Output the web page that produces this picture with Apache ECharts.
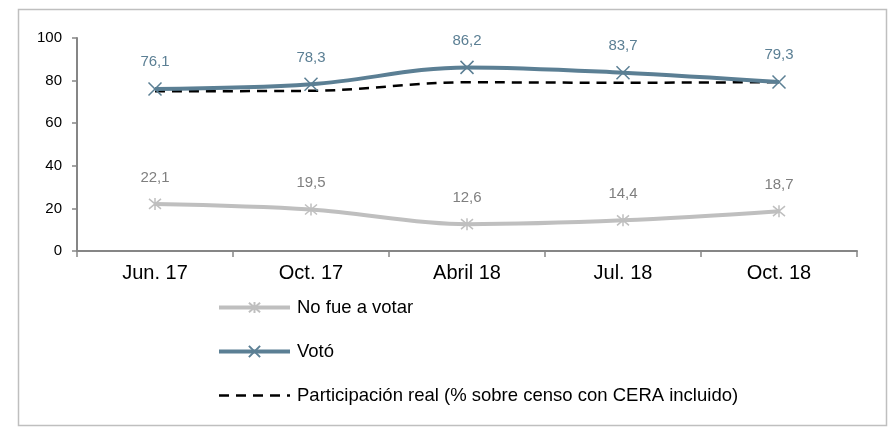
<!DOCTYPE html>
<html>
<head>
<meta charset="utf-8">
<script src="https://cdn.jsdelivr.net/npm/echarts@6/dist/echarts.min.js"></script>
<style>
html,body{margin:0;padding:0;background:#fff;}
#c{width:888px;height:427px;}
</style>
</head>
<body>
<div id="c"></div>
<script>
const categories = ['Jun. 17', 'Oct. 17', 'Abril 18', 'Jul. 18', 'Oct. 18'];
const noFue = [22.1, 19.5, 12.6, 14.4, 18.7];
const voto = [76.1, 78.3, 86.2, 83.7, 79.3];
const participacion = [75.0, 75.2, 79.2, 79.0, 79.3];
const yTicks = [0, 20, 40, 60, 80, 100];

const FONT = 'Liberation Sans, Arial, sans-serif';
const fmt = p => String(p.value).replace('.', ',');
const chart = echarts.init(document.getElementById('c'), null, {renderer: 'canvas'});
chart.setOption({
  animation: false,
  backgroundColor: '#fff',
  textStyle: {fontFamily: FONT},
  graphic: [{
    type: 'rect', silent: true,
    shape: {x: 18.5, y: 9.5, width: 868, height: 416},
    style: {fill: 'none', stroke: '#bfbfbf', lineWidth: 1.5}
  }],
  grid: {left: 77, right: 31, top: 38, bottom: 176},
  legend: {
    orient: 'vertical',
    left: 212, top: 293,
    itemWidth: 71, itemHeight: 14, itemGap: 25,
    lineStyle: {width: 'inherit'},
    textStyle: {fontSize: 18.5, color: '#000', fontFamily: FONT, padding: [0,0,0,2]},
    data: ['No fue a votar', 'Votó', 'Participación real (% sobre censo con CERA incluido)']
  },
  xAxis: {
    type: 'category', data: categories, boundaryGap: true,
    axisLine: {lineStyle: {color: '#868686', width: 2}},
    axisTick: {show: true, length: 6, lineStyle: {color: '#868686', width: 1.5}},
    axisLabel: {fontSize: 20, color: '#000', margin: 12}
  },
  yAxis: {
    type: 'value', min: yTicks[0], max: yTicks[yTicks.length-1], interval: 20,
    splitLine: {show: false},
    axisLine: {show: true, lineStyle: {color: '#868686', width: 2}},
    axisTick: {show: true, length: 5, lineStyle: {color: '#868686', width: 1.5}},
    axisLabel: {fontSize: 15, color: '#000', margin: 15}
  },
  series: [
    {
      name: 'No fue a votar', type: 'line', data: noFue, smooth: 0.35,
      symbol: 'path://M0,0L10,10M10,0L0,10M5,-1L5,11', symbolSize: 12,
      lineStyle: {color: '#bfbfbf', width: 4},
      itemStyle: {color: '#bfbfbf', borderColor: '#bfbfbf', borderWidth: 1.5},
      label: {show: true, position: 'top', distance: 12, fontSize: 15, color: '#7f7f7f', formatter: fmt},
      z: 3
    },
    {
      name: 'Votó', type: 'line', data: voto, smooth: 0.35,
      symbol: 'path://M0,0L10,10M10,0L0,10', symbolSize: 13,
      lineStyle: {color: '#5b7f94', width: 4},
      itemStyle: {color: '#5b7f94', borderColor: '#5b7f94', borderWidth: 1.5},
      label: {show: true, position: 'top', distance: 12, fontSize: 15, color: '#5b7f94', formatter: fmt},
      z: 4
    },
    {
      name: 'Participación real (% sobre censo con CERA incluido)', type: 'line', data: participacion, smooth: 0.35,
      symbol: 'circle', showSymbol: false, symbolSize: 0,
      lineStyle: {color: '#000', width: 2.5, type: [10, 7]},
      itemStyle: {color: 'rgba(0,0,0,0)', borderWidth: 0},
      z: 3
    }
  ]
});
</script>
</body>
</html>
